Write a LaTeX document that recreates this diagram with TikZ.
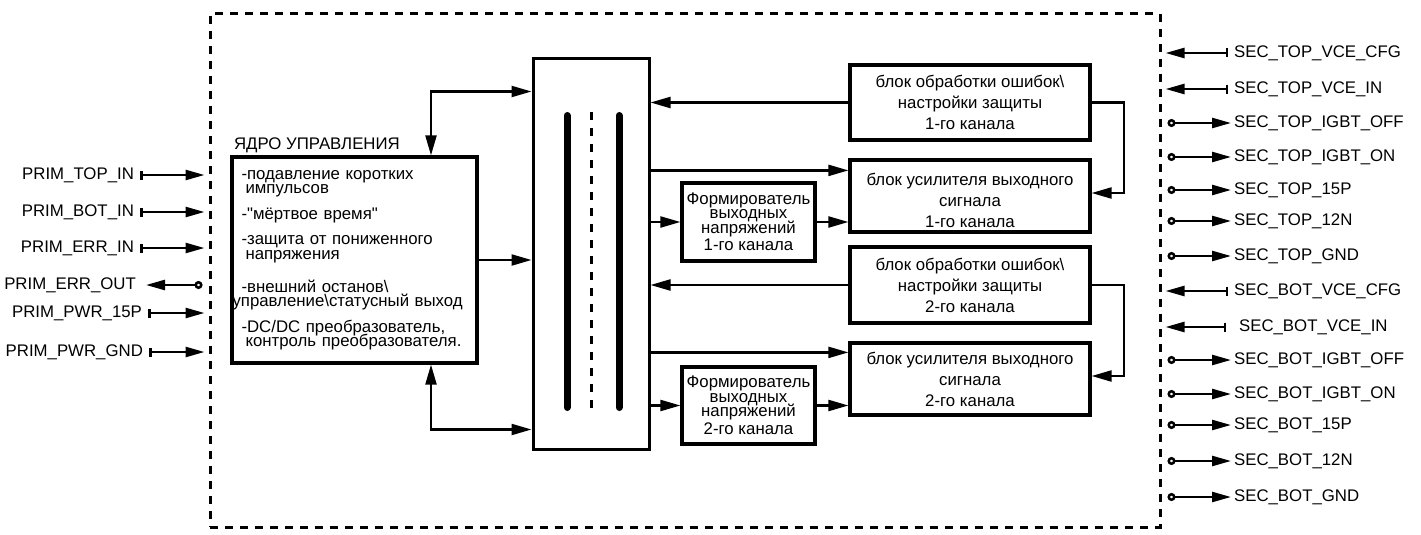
\documentclass[tikz,border=0pt]{standalone}
\usepackage{fontspec}
\setmainfont{Liberation Sans}
\usetikzlibrary{arrows.meta,positioning}
\newcommand\tightlines{\lineskiplimit=-20pt\relax}

\begin{document}
\begin{tikzpicture}[x=1pt,y=-1pt,line width=2.2pt,
    >={Triangle[length=20pt,width=11pt]},
    every node/.style={font=\fontsize{16.8}{21}\selectfont},
    block/.style={draw,line width=3.2pt,align=center,inner sep=0pt},
    sig/.style={inner sep=2pt},
    sigin/.style={line width=2.5pt,{Bar[width=9pt]}-{Triangle[length=19pt,width=10pt]},shorten <=3pt,shorten >=4pt},
    sigout/.style={line width=2.5pt,{Circle[open,length=8pt]}-{Triangle[length=19pt,width=10pt]},shorten <=6pt},
    busline/.style={line width=7pt,line cap=round}]

  \useasboundingbox (0,0) rectangle (1421,535);

  % dashed outline of the driver
  \node[draw,line width=3pt,dash pattern=on 8pt off 7pt,minimum width=950pt,
        minimum height=513pt,inner sep=0pt] (frame) at (685,270.5) {};

  % control core
  \node[block,minimum width=245pt,minimum height=206pt,text width=226pt,align=left,
        font=\fontsize{16.8}{14.5}\selectfont\tightlines] (core) at (354.5,260)
    {-подавление коротких\\
     \hspace*{4pt}импульсов\\[11pt]
     -\textquotedbl мёртвое время\textquotedbl\\[11pt]
     -защита от пониженного\\
     \hspace*{4pt}напряжения\\[18.5pt]
     -внешний останов\textbackslash\\
     \hspace*{-9pt}управление\textbackslash статусный выход\\[11pt]
     -DC/DC преобразователь,\\
     \hspace*{4pt}контроль преобразователя.};
  \node[anchor=base west,inner sep=0pt] (coretitle) at (233,149) {ЯДРО УПРАВЛЕНИЯ};

  % internal bus
  \node[draw,line width=3pt,minimum width=116pt,minimum height=390pt] (bus) at (591,254) {};
  \draw[busline] (567,115.5) -- (567,407.5);
  \draw[busline] (619,115.5) -- (619,407.5);
  \draw[line width=3pt,dash pattern=on 8pt off 8pt] (591,112) -- (591,411);

  % channel blocks
  \node[block,minimum width=240pt,minimum height=75pt] (err1) at (970,102.5)
    {блок обработки ошибок\textbackslash\\настройки защиты\\1-го канала};
  \node[block,minimum width=240pt,minimum height=72pt] (amp1) at (970,196)
    {\rule{0pt}{22pt}блок усилителя выходного\\сигнала\\1-го канала};
  \node[block,minimum width=133pt,minimum height=78pt,
        font=\fontsize{16.8}{14.5}\selectfont\tightlines] (form1) at (748.5,222)
    {Формирователь\\выходных\\напряжений\\[3pt]1-го канала};
  \node[block,minimum width=240pt,minimum height=76pt] (err2) at (970,285)
    {блок обработки ошибок\textbackslash\\настройки защиты\\2-го канала};
  \node[block,minimum width=240pt,minimum height=72pt] (amp2) at (970,379)
    {блок усилителя выходного\\сигнала\\2-го канала};
  \node[block,minimum width=133pt,minimum height=77pt,
        font=\fontsize{16.8}{14.5}\selectfont\tightlines] (form2) at (748.5,405.5)
    {Формирователь\\выходных\\напряжений\\[3pt]2-го канала};

  \coordinate (a1in) at ([yshift=-12pt]amp1.north west);
  \coordinate (a2in) at ([yshift=-11pt]amp2.north west);

  % core <-> bus
  \draw[<->] ([xshift=76.5pt]core.north) |- ([yshift=-34pt]bus.north west);
  \draw[->] (core.east) -- (core.east -| bus.west);
  \draw[<->] ([xshift=76.5pt]core.south) |- ([yshift=21pt]bus.south west);

  % bus <-> channels
  \draw[->] (err1.west) -- (err1.west -| bus.east);
  \draw[->] (a1in -| bus.east) -- (a1in);
  \draw[->] (form1.west -| bus.east) -- (form1.west);
  \draw[->] (form1.east) -- (form1.east -| amp1.west);
  \draw[->] (err1.east) -- ++(32,0) |- ([yshift=3pt]amp1.east);
  \draw[->] (err2.west) -- (err2.west -| bus.east);
  \draw[->] (a2in -| bus.east) -- (a2in);
  \draw[->] (form2.west -| bus.east) -- (form2.west);
  \draw[->] (form2.east) -- (form2.east -| amp2.west);
  \draw[->] (err2.east) -- ++(32,0) |- ([yshift=3pt]amp2.east);

  % primary side
  \node[sig,anchor=east] (ptopin) at (137,175) {PRIM\_TOP\_IN};
  \node[sig,anchor=east] (pbotin) at (137,212) {PRIM\_BOT\_IN};
  \node[sig,anchor=east] (perrin) at (137,248) {PRIM\_ERR\_IN};
  \node[sig,anchor=east] (perrout) at (139,285) {PRIM\_ERR\_OUT};
  \node[sig,anchor=east] (ppwr15) at (145,313) {PRIM\_PWR\_15P};
  \node[sig,anchor=east] (ppwrgnd) at (146,352) {PRIM\_PWR\_GND};
  \draw[sigin] (ptopin.east) -- (ptopin.east -| frame.west);
  \draw[sigin] (pbotin.east) -- (pbotin.east -| frame.west);
  \draw[sigin] (perrin.east) -- (perrin.east -| frame.west);
  \draw[sigout,shorten >=7pt] (perrout.east -| frame.west) -- (perrout.east);
  \draw[sigin] (ppwr15.east) -- (ppwr15.east -| frame.west);
  \draw[sigin] (ppwrgnd.east) -- (ppwrgnd.east -| frame.west);

  % secondary side
  \node[sig,anchor=west] (stvcecfg) at (1231,53) {SEC\_TOP\_VCE\_CFG};
  \node[sig,anchor=west] (stvcein) at (1231,89) {SEC\_TOP\_VCE\_IN};
  \node[sig,anchor=west] (stoff) at (1231,123) {SEC\_TOP\_IGBT\_OFF};
  \node[sig,anchor=west] (ston) at (1231,157) {SEC\_TOP\_IGBT\_ON};
  \node[sig,anchor=west] (st15p) at (1231,190) {SEC\_TOP\_15P};
  \node[sig,anchor=west] (st12n) at (1231,221) {SEC\_TOP\_12N};
  \node[sig,anchor=west] (stgnd) at (1231,256) {SEC\_TOP\_GND};
  \node[sig,anchor=west] (sbvcecfg) at (1231,291) {SEC\_BOT\_VCE\_CFG};
  \node[sig,anchor=west] (sbvcein) at (1236,327) {SEC\_BOT\_VCE\_IN};
  \node[sig,anchor=west] (sboff) at (1231,360) {SEC\_BOT\_IGBT\_OFF};
  \node[sig,anchor=west] (sbon) at (1231,394) {SEC\_BOT\_IGBT\_ON};
  \node[sig,anchor=west] (sb15p) at (1231,425) {SEC\_BOT\_15P};
  \node[sig,anchor=west] (sb12n) at (1231,461) {SEC\_BOT\_12N};
  \node[sig,anchor=west] (sbgnd) at (1231,497) {SEC\_BOT\_GND};
  \draw[sigin] (stvcecfg.west) -- (stvcecfg.west -| frame.east);
  \draw[sigin] (stvcein.west) -- (stvcein.west -| frame.east);
  \draw[sigout] (stoff.west -| frame.east) -- (stoff.west);
  \draw[sigout] (ston.west -| frame.east) -- (ston.west);
  \draw[sigout] (st15p.west -| frame.east) -- (st15p.west);
  \draw[sigout] (st12n.west -| frame.east) -- (st12n.west);
  \draw[sigout] (stgnd.west -| frame.east) -- (stgnd.west);
  \draw[sigin] (sbvcecfg.west) -- (sbvcecfg.west -| frame.east);
  \draw[sigin,shorten <=10pt] (sbvcein.west) -- (sbvcein.west -| frame.east);
  \draw[sigout] (sboff.west -| frame.east) -- (sboff.west);
  \draw[sigout] (sbon.west -| frame.east) -- (sbon.west);
  \draw[sigout] (sb15p.west -| frame.east) -- (sb15p.west);
  \draw[sigout] (sb12n.west -| frame.east) -- (sb12n.west);
  \draw[sigout] (sbgnd.west -| frame.east) -- (sbgnd.west);
\end{tikzpicture}
\end{document}
